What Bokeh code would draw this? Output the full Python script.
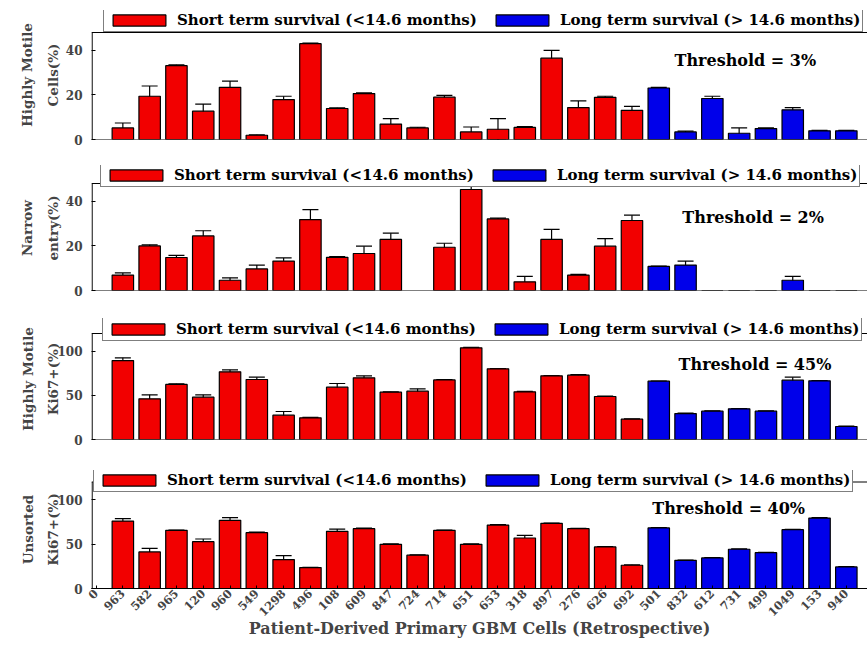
import math

from bokeh.embed import file_html
from bokeh.layouts import column
from bokeh.models import (ColumnDataSource, FixedTicker, Label, Legend, LegendItem,
                          Range1d, Span, TeeHead, Whisker)
from bokeh.plotting import figure
from bokeh.resources import INLINE

# Patient-derived GBM cell lines (first 20 short-term, last 8 long-term survivors)
cells = ["963", "582", "965", "120", "960", "549", "1298", "496", "108", "609",
         "847", "724", "714", "651", "653", "318", "897", "276", "626", "692",
         "501", "832", "612", "731", "499", "1049", "153", "940"]
n_short = 20

# Highly motile cells (%)
motile = [5.2, 19.4, 33.1, 12.7, 23.4, 1.9, 17.9, 43.0, 13.9, 20.6, 6.9, 5.2, 19.0, 3.4,
          4.6, 5.4, 36.5, 14.3, 18.9, 13.1, 23.1, 3.4, 18.4, 2.8, 4.9, 13.3, 3.9, 3.9]
motile_err = [2.2, 4.6, 0.4, 3.2, 2.8, 0.2, 1.5, 0.3, 0.3, 0.3, 2.5, 0.3, 0.8, 2.2,
              4.8, 0.4, 3.5, 3.0, 0.5, 1.8, 0.3, 0.4, 1.0, 2.4, 0.3, 1.0, 0.2, 0.2]

# Narrow entry (%)  (None = not measured)
narrow = [6.9, 20.0, 14.8, 24.5, 4.6, 9.7, 13.2, 31.8, 14.9, 16.6, 22.9, None, 19.4, 45.3,
          32.1, 3.9, 22.9, 6.9, 19.9, 31.4, 10.8, 11.4, 0, 0, 0, 4.6, 0, 0]
narrow_err = [1.0, 0.5, 1.0, 2.3, 1.1, 1.7, 1.4, 4.5, 0.3, 3.3, 2.8, None, 1.8, 1.5,
              0.4, 2.4, 4.5, 0.3, 3.4, 2.4, 0.1, 1.8, 0, 0, 0, 1.7, 0, 0]

# Ki67+ among highly motile cells (%)
motile_ki67 = [89.4, 46.0, 62.3, 47.9, 76.6, 67.9, 27.5, 24.5, 59.2, 69.8, 53.6, 54.7, 67.5, 103.8,
               80.0, 54.0, 72.1, 72.8, 48.7, 23.0, 66.0, 29.4, 32.1, 34.7, 32.1, 67.2, 66.4, 14.7]
motile_ki67_err = [3.1, 4.6, 0.7, 2.7, 2.3, 2.7, 4.2, 0.5, 4.2, 2.3, 0.4, 2.7, 0.3, 0.4,
                   0.4, 0.4, 0.3, 0.8, 0.3, 0.3, 0.2, 0.4, 0.2, 0.3, 0.3, 3.4, 0.2, 0.4]

# Ki67+ among unsorted cells (%)
unsorted_ki67 = [76.0, 41.2, 65.5, 52.8, 76.8, 62.9, 32.6, 23.6, 64.4, 67.4, 49.8, 37.5, 65.5, 49.8,
                 71.5, 56.9, 73.4, 67.4, 46.8, 26.2, 68.2, 31.8, 34.5, 44.2, 40.4, 66.3, 79.4, 24.3]
unsorted_ki67_err = [2.7, 4.1, 0.4, 3.0, 3.0, 0.6, 4.5, 0.3, 2.6, 0.6, 0.4, 0.3, 0.4, 0.4,
                     0.4, 3.0, 0.3, 0.3, 0.3, 0.5, 0.3, 0.3, 0.3, 0.4, 0.3, 0.4, 0.4, 0.3]

short_label = "Short term survival (<14.6 months)"
long_label = "Long term survival (> 14.6 months)"
x_title = "Patient-Derived Primary GBM Cells (Retrospective)"

RED = "#F20000"
BLUE = "#0000EA"
FONT = "DejaVu Serif"
W = 867
X_START, X_END = -0.17, 28.79
PX_PER_X = (W - 91) / (X_END - X_START)


def make_panel(vals, errs, ylabel, ylim, yticks, threshold, thr_xy,
               top, frame_h, axes_h, bottom, legend_xy, label_standoff, last=False):
    # the frame reaches up to the legend; the axes box itself stops at ylim
    y_end = ylim * frame_h / axes_h
    p = figure(width=W, height=top + frame_h + bottom,
               x_range=Range1d(X_START, X_END), y_range=Range1d(0, y_end),
               output_backend="svg", toolbar_location=None,
               min_border_left=91, min_border_right=0,
               min_border_top=top, min_border_bottom=bottom)
    p.outline_line_color = None
    p.xgrid.visible = False
    p.ygrid.visible = False
    p.background_fill_color = "white"
    p.border_fill_color = "white"

    xs = [i + 1 for i in range(len(vals))]
    short = dict(x=[], top=[])
    long_ = dict(x=[], top=[])
    wb = dict(x=[], lower=[], upper=[])
    for x, v, e in zip(xs, vals, errs):
        if v is None:
            continue
        d = short if x <= n_short else long_
        d["x"].append(x)
        d["top"].append(v)
        if e:
            wb["x"].append(x)
            wb["lower"].append(v - e)
            wb["upper"].append(v + e)

    r_short = p.vbar(x="x", top="top", width=0.8, source=ColumnDataSource(short),
                     fill_color=RED, line_color="black", line_width=1.2)
    r_long = p.vbar(x="x", top="top", width=0.8, source=ColumnDataSource(long_),
                    fill_color=BLUE, line_color="black", line_width=1.2)

    p.add_layout(Whisker(source=ColumnDataSource(wb), base="x", upper="upper", lower="lower",
                         line_color="black", line_width=1.2,
                         upper_head=TeeHead(size=16, line_color="black", line_width=1.2),
                         lower_head=TeeHead(size=16, line_color="#600000", line_width=1.0)))

    # axes box: left edge, top edge and baseline
    xl = X_START + 0.6 / PX_PER_X
    p.segment(x0=[xl], y0=[0], x1=[xl], y1=[ylim], line_color="black", line_width=1.2)
    p.add_layout(Span(location=ylim, dimension="width", line_color="black", line_width=1))
    p.add_layout(Span(location=0, dimension="width", line_color="black", line_width=1.2))

    p.add_layout(Label(x=thr_xy[0], y=thr_xy[1], text=threshold, text_font=FONT,
                       text_font_style="bold", text_font_size="16px",
                       text_baseline="middle", text_color="black"))

    leg = Legend(items=[LegendItem(label=short_label, renderers=[r_short]),
                        LegendItem(label=long_label, renderers=[r_long])],
                 orientation="horizontal", location=legend_xy,
                 glyph_width=66, glyph_height=14, label_standoff=5, spacing=12,
                 padding=2, margin=0, label_height=14,
                 label_text_font=FONT, label_text_font_style="bold",
                 label_text_font_size="15px", label_text_color="black",
                 border_line_color="black", border_line_width=1,
                 background_fill_color="white", background_fill_alpha=1.0)
    p.add_layout(leg, "center")

    ya = p.yaxis[0]
    ya.ticker = FixedTicker(ticks=yticks)
    ya.axis_label = ylabel
    ya.axis_label_text_font = FONT
    ya.axis_label_text_font_style = "bold"
    ya.axis_label_text_font_size = "13.5px"
    ya.axis_label_text_line_height = 1.6
    ya.axis_label_standoff = label_standoff
    ya.major_label_text_font = FONT
    ya.major_label_text_font_style = "bold"
    ya.major_label_text_font_size = "12px"
    ya.major_label_standoff = 9
    ya.major_tick_in = 4
    ya.major_tick_out = 0
    ya.minor_tick_line_color = None
    ya.axis_line_color = None

    xa = p.xaxis[0]
    if last:
        xa.ticker = FixedTicker(ticks=list(range(len(cells) + 1)))
        xa.major_label_overrides = {i: (cells[i - 1] if i > 0 else "0")
                                    for i in range(len(cells) + 1)}
        xa.major_label_orientation = math.pi / 4
        xa.major_label_text_font = FONT
        xa.major_label_text_font_style = "bold"
        xa.major_label_text_font_size = "11.5px"
        xa.major_label_standoff = 3
        xa.major_tick_in = 3
        xa.major_tick_out = 0
        xa.minor_tick_line_color = None
        xa.axis_line_color = "black"
        xa.axis_line_width = 1.2
        xa.axis_label = x_title
        xa.axis_label_text_font = FONT
        xa.axis_label_text_font_style = "bold"
        xa.axis_label_text_font_size = "16px"
        xa.axis_label_standoff = -4
    else:
        xa.visible = False
    return p


p1 = make_panel(motile, motile_err, "Highly Motile\nCells(%)", 48, [0, 20, 40],
                "Threshold = 3%", (21.59, 35.5), 10, 129, 107, 11, (12, 107), 2)
p2 = make_panel(narrow, narrow_err, "Narrow\nentry(%)", 48, [0, 20, 40],
                "Threshold = 2%", (21.88, 32.6), 15, 125, 107, 10, (9, 103), 2)
p3 = make_panel(motile_ki67, motile_ki67_err, "Highly Motile\nKi67+(%)", 120, [0, 50, 100],
                "Threshold = 45%", (21.74, 84.9), 18, 121, 106, 11, (11, 98), -7)
p4 = make_panel(unsorted_ki67, unsorted_ki67_err, "Unsorted\nKi67+(%)", 120, [0, 50, 100],
                "Threshold = 40%", (20.76, 89.9), 20, 118, 106.5, 60, (2, 96), -7, last=True)

layout = column(p1, p2, p3, p4, spacing=0)
open("out.html", "w").write(file_html(layout, INLINE))
